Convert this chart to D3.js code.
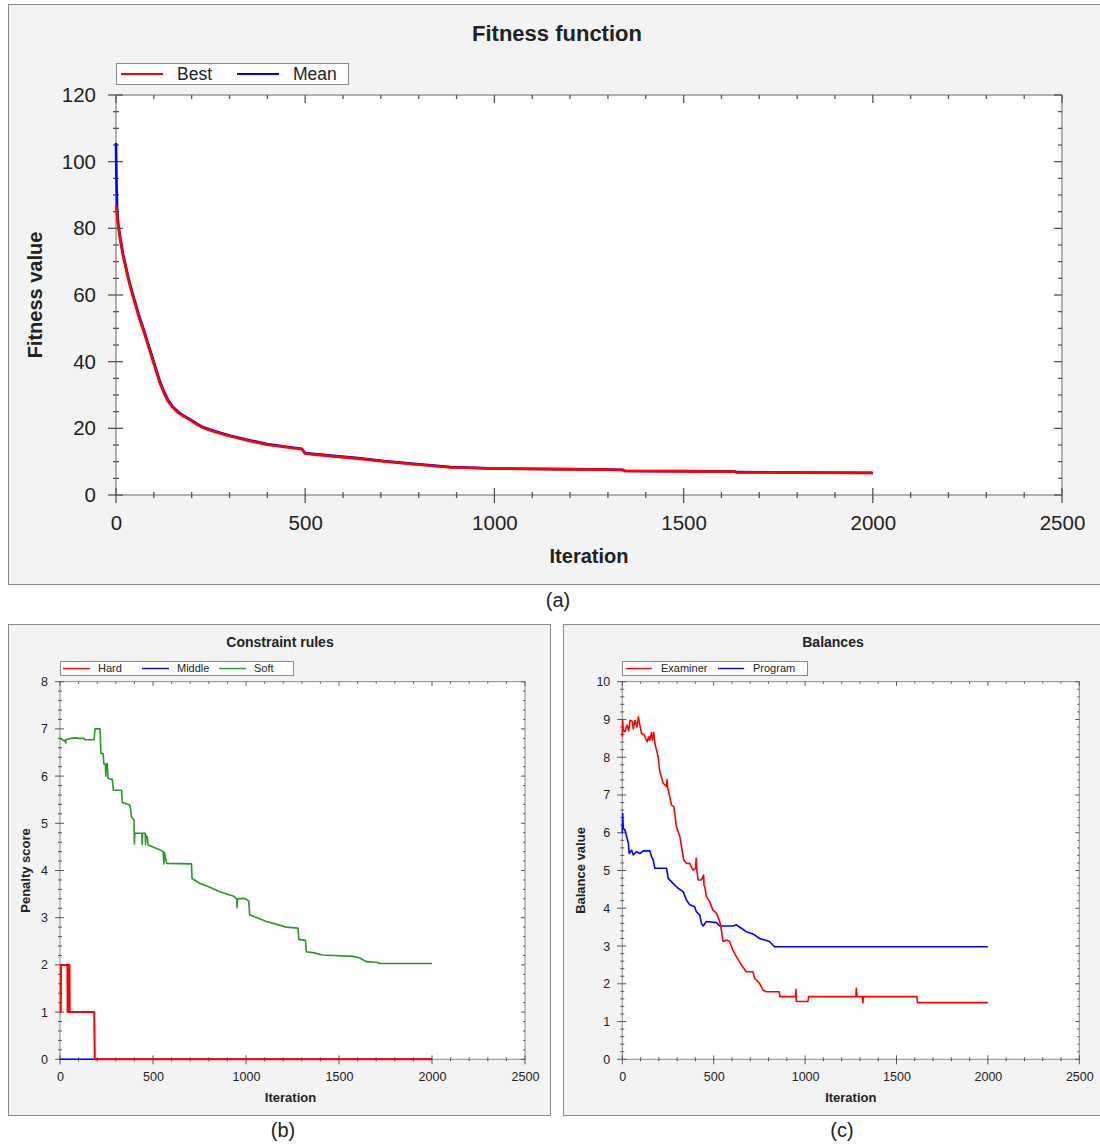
<!DOCTYPE html>
<html>
<head>
<meta charset="utf-8">
<script src="https://cdn.jsdelivr.net/npm/d3@7"></script>
<style>
    body { margin: 0; background: #fff; }
    text { font-family: "Liberation Sans", Arial, sans-serif; fill: #222; }
</style>
</head>
<body>
<svg id="chart" width="1100" height="1145"></svg>
<script>
// ---- data: [iteration, value] ----
const fitnessBest = [[0,87],[3,84],[6,80.5],[12,76],[19,71.5],[26,68],[33,64.5],[41,61],[50,57.5],[60,53.5],
    [72,49.5],[83,45.5],[94,41.5],[105,37.5],[116,33.5],[127,30.5],[138,28],[150,26.2],[165,24.6],[180,23.5],
    [196,22.5],[213,21.2],[231,20.1],[260,19],[302,17.6],[350,16.3],[399,15.1],[450,14.3],[491,13.7],[495,13.1],
    [500,12.4],[575,11.6],[640,10.9],[707,10.1],[780,9.3],[840,8.7],[884,8.3],[950,8.1],[1000,7.9],[1100,7.8],
    [1200,7.7],[1300,7.6],[1340,7.5],[1345,7.2],[1500,7.1],[1635,7.0],[1640,6.8],[1800,6.7],[2000,6.6]];
const fitnessMean = [[0,105.6],[1,96],[3,86],[6,81.2],[12,76.6],[19,72.1],[26,68.6],[33,65.1],[41,61.6],[50,58.1],[60,54.1],
    [72,50.1],[83,46.1],[94,42.1],[105,38.1],[116,34.1],[127,31],[138,28.4],[150,26.5],[165,24.9],[180,23.7],
    [196,22.7],[213,21.4],[231,20.3],[260,19.2],[302,17.8],[350,16.5],[399,15.3],[450,14.5],[491,13.9],[495,13.3],
    [500,12.55],[575,11.75],[640,11.05],[707,10.2],[780,9.4],[840,8.8],[884,8.4],[950,8.15],[1000,7.95],[1100,7.85],
    [1200,7.75],[1300,7.65],[1340,7.55],[1345,7.25],[1500,7.15],[1635,7.05],[1640,6.85],[1800,6.75],[2000,6.65]];

const hard = [[0,1],[4,1],[5,2],[40,2],[41,1],[44,1],[45,2],[47,2],[48,1],[50,1],[51,2],[52,1],
    [184,1],[187,0],[2000,0]];
const middle = [[0,0],[2000,0]];
const soft = [[0,6.80],[10,6.78],[20,6.75],[27,6.76],[30,6.70],[33,6.77],[50,6.79],[60,6.80],[80,6.81],
    [100,6.80],[130,6.80],[134,6.77],[183,6.77],[188,7.0],[215,7.0],[220,6.48],[232,6.48],[236,6.25],[244,6.25],
    [246,6.0],[248,6.25],[254,6.27],[258,5.95],[281,5.93],[287,5.70],[331,5.70],[335,5.44],[375,5.39],[380,5.30],
    [384,5.14],[398,5.07],[400,4.56],[402,4.79],[440,4.79],[442,4.55],[444,4.79],[458,4.79],[460,4.55],[462,4.75],
    [470,4.70],[474,4.54],[530,4.45],[555,4.40],[558,4.14],[562,4.38],[573,4.15],[707,4.14],[710,3.83],[751,3.73],
    [796,3.66],[860,3.55],[930,3.46],[950,3.40],[952,3.21],[954,3.40],[993,3.41],[1015,3.35],[1020,3.06],
    [1110,2.92],[1217,2.80],[1280,2.78],[1284,2.54],[1320,2.52],[1324,2.28],[1360,2.26],[1413,2.21],[1574,2.18],
    [1610,2.15],[1646,2.07],[1709,2.05],[1717,2.03],[2000,2.03]];

const examiner = [[0,8.54],[2,8.98],[5,8.72],[15,8.68],[25,8.85],[35,8.70],[42,8.98],[55,8.95],[60,8.75],
    [70,8.98],[80,8.80],[88,9.07],[96,8.85],[105,8.63],[120,8.59],[136,8.41],[145,8.54],[150,8.45],[160,8.65],
    [165,8.45],[172,8.65],[178,8.37],[196,8.01],[205,7.62],[224,7.31],[242,7.22],[245,7.41],[248,7.20],[260,6.95],
    [269,6.73],[282,6.69],[296,6.16],[315,5.90],[325,5.60],[336,5.28],[351,5.19],[369,5.19],[387,5.01],[400,5.05],
    [404,5.32],[408,5.00],[415,4.75],[433,4.75],[445,4.88],[447,4.60],[451,4.57],[460,4.31],[478,4.17],[496,3.95],
    [515,3.87],[533,3.65],[542,3.42],[551,3.12],[569,3.16],[587,3.12],[605,2.89],[624,2.72],[651,2.50],[678,2.32],
    [715,2.32],[724,2.14],[751,2.01],[769,1.84],[787,1.79],[858,1.79],[862,1.66],[947,1.66],[950,1.85],[952,1.53],
    [1015,1.53],[1020,1.66],[1278,1.66],[1280,1.88],[1284,1.66],[1313,1.66],[1316,1.50],[1320,1.66],[1611,1.66],
    [1615,1.50],[2000,1.50]];
const program = [[0,5.98],[2,6.51],[5,6.12],[15,6.07],[33,5.72],[38,5.45],[51,5.54],[60,5.41],[78,5.50],
    [96,5.45],[115,5.52],[151,5.52],[160,5.37],[169,5.28],[178,5.06],[242,5.06],[251,4.79],[278,4.66],[305,4.53],
    [333,4.44],[351,4.22],[369,4.09],[396,4.04],[405,3.91],[424,3.82],[433,3.60],[442,3.53],[460,3.65],[515,3.62],
    [533,3.53],[605,3.53],[624,3.56],[651,3.47],[678,3.38],[715,3.32],[751,3.20],[805,3.12],[833,2.98],[2000,2.98]];

const xTicks = [0, 500, 1000, 1500, 2000, 2500];
const fitnessTicks = [0, 20, 40, 60, 80, 100, 120];
const penaltyTicks = [0, 1, 2, 3, 4, 5, 6, 7, 8];
const balanceTicks = [0, 1, 2, 3, 4, 5, 6, 7, 8, 9, 10];

const svg = d3.select("#chart");

function drawPanel(o) {
    let g = svg.append("g");

    g.append("rect")
        .attr("x", o.box[0] + 0.5).attr("y", o.box[1] + 0.5)
        .attr("width", o.box[2] - o.box[0]).attr("height", o.box[3] - o.box[1])
        .attr("fill", "#f3f3f3").attr("stroke", "#8a8a8a");

    let x = d3.scaleLinear().domain([0, 2500]).range([o.plot[0], o.plot[2]]);
    let y = d3.scaleLinear().domain([0, o.ymax]).range([o.plot[3], o.plot[1]]);

    g.append("rect")
        .attr("x", x(0)).attr("y", y(o.ymax))
        .attr("width", x(2500) - x(0)).attr("height", y(0) - y(o.ymax))
        .attr("fill", "#fff");

    // frame
    g.append("rect")
        .attr("x", x(0)).attr("y", y(o.ymax))
        .attr("width", x(2500) - x(0)).attr("height", y(0) - y(o.ymax))
        .attr("fill", "none").attr("stroke", "#8a8a8a").attr("stroke-width", o.axisW);

    let t = o.tick; // [major out, major in, minor out, minor in, inner major, inner minor]
    let ticks = g.append("g").attr("stroke", "#555").attr("stroke-width", o.axisW);

    d3.range(0, 2501, 100).forEach(v => {
        let major = v % 500 === 0;
        let X = x(v);
        ticks.append("line")
            .attr("x1", X).attr("x2", X)
            .attr("y1", y(0) - (major ? t[1] : t[3])).attr("y2", y(0) + (major ? t[0] : t[2]));
        ticks.append("line")
            .attr("x1", X).attr("x2", X)
            .attr("y1", y(o.ymax)).attr("y2", y(o.ymax) + (major ? t[4] : t[5]));
    });
    d3.range(0, Math.round(o.ymax / o.minor) + 1).forEach(i => {
        let v = i * o.minor;
        let major = Math.abs(v / o.major - Math.round(v / o.major)) < 1e-6;
        let Y = y(v);
        ticks.append("line")
            .attr("y1", Y).attr("y2", Y)
            .attr("x1", x(0) - (major ? t[0] : t[2])).attr("x2", x(0) + (major ? t[1] : t[3]));
        ticks.append("line")
            .attr("y1", Y).attr("y2", Y)
            .attr("x1", x(2500)).attr("x2", x(2500) - (major ? t[4] : t[5]));
    });

    // tick labels
    let ax = g.append("g")
        .attr("transform", `translate(0,${y(0)})`)
        .call(d3.axisBottom(x).tickValues(xTicks).tickSize(0).tickPadding(o.padX).tickFormat(d3.format("d")));
    let ay = g.append("g")
        .attr("transform", `translate(${x(0)},0)`)
        .call(d3.axisLeft(y).tickValues(o.yTicks).tickSize(0).tickPadding(o.padY).tickFormat(d3.format("d")));
    [ax, ay].forEach(a => {
        a.select(".domain").remove();
        a.selectAll("text")
            .style("font-family", '"Liberation Sans", Arial, sans-serif')
            .style("font-size", o.tickFont + "px")
            .attr("fill", "#222");
    });

    // series
    let line = d3.line().x(d => x(d[0])).y(d => y(d[1]));
    let plotArea = g.append("g");
    o.series.forEach(s => {
        plotArea.append("path")
            .datum(s.data)
            .attr("d", line)
            .attr("fill", "none")
            .attr("stroke", s.color)
            .attr("stroke-width", s.width || o.lineW)
            .attr("stroke-linejoin", "round");
    });

    // titles
    g.append("text")
        .attr("x", o.titlePos[0]).attr("y", o.titlePos[1])
        .attr("text-anchor", "middle")
        .style("font-weight", "bold").style("font-size", o.titleFont + "px")
        .text(o.title);
    g.append("text")
        .attr("x", (x(0) + x(2500)) / 2 + o.xLabelPos[0]).attr("y", o.xLabelPos[1])
        .attr("text-anchor", "middle")
        .style("font-weight", "bold").style("font-size", o.labelFont + "px")
        .text("Iteration");
    g.append("text")
        .attr("transform", `translate(${o.yLabelPos[0]},${(y(0) + y(o.ymax)) / 2}) rotate(-90)`)
        .attr("text-anchor", "middle")
        .attr("dy", "0.35em")
        .style("font-weight", "bold").style("font-size", o.labelFont + "px")
        .text(o.yLabel);

    // legend
    let L = o.legend;
    let lg = g.append("g");
    lg.append("rect")
        .attr("x", L.box[0] + 0.5).attr("y", L.box[1] + 0.5)
        .attr("width", L.box[2] - L.box[0]).attr("height", L.box[3] - L.box[1])
        .attr("fill", "#fff").attr("stroke", "#8a8a8a");
    let cy = (L.box[1] + L.box[3]) / 2 + 0.5;
    L.items.forEach((it, i) => {
        let s = o.series.find(d => d.name === it);
        let x0 = L.xs[i];
        lg.append("line")
            .attr("x1", x0).attr("x2", x0 + L.lineLen)
            .attr("y1", cy).attr("y2", cy)
            .attr("stroke", s.color).attr("stroke-width", L.lineW);
        lg.append("text")
            .attr("x", x0 + L.lineLen + L.gap).attr("y", cy)
            .attr("dy", "0.35em")
            .style("font-size", L.font + "px")
            .text(it);
    });

    svg.append("text")
        .attr("x", o.caption[0]).attr("y", o.caption[1])
        .attr("text-anchor", "middle")
        .attr("dy", "0.35em")
        .style("font-size", o.captionFont + "px")
        .text(o.captionText);
}

drawPanel({
    box: [8, 4, 1102, 584],
    plot: [116, 95, 1062, 495],
    ymax: 120, major: 20, minor: 5, yTicks: fitnessTicks,
    tick: [8, 7, 3, 3, 8, 4],
    axisW: 1.3, lineW: 2.6,
    padX: 20, padY: 20, tickFont: 20.5,
    title: "Fitness function", titlePos: [557, 41], titleFont: 22,
    xLabelPos: [0, 563], labelFont: 20,
    yLabel: "Fitness value", yLabelPos: [35],
    series: [
        {name: "Mean", color: "#0000ff", data: fitnessMean},
        {name: "Best", color: "#ff0000", data: fitnessBest}
    ],
    legend: {box: [116, 63, 348, 84], items: ["Best", "Mean"], xs: [121, 237], lineLen: 42, gap: 14, lineW: 2.2, font: 17.5},
    caption: [558, 600], captionFont: 20, captionText: "(a)"
});

drawPanel({
    box: [8, 624, 550, 1115],
    plot: [60, 681.7, 525, 1059.3],
    ymax: 8, major: 1, minor: 0.2, yTicks: penaltyTicks,
    tick: [5, 4, 2, 2, 4, 2],
    axisW: 1, lineW: 1.6,
    padX: 13, padY: 12, tickFont: 12.5,
    title: "Constraint rules", titlePos: [280, 647], titleFont: 14,
    xLabelPos: [-2, 1102], labelFont: 13,
    yLabel: "Penalty score", yLabelPos: [25],
    series: [
        {name: "Middle", color: "#0000ff", data: middle},
        {name: "Hard", color: "#ff0000", data: hard, width: 2},
        {name: "Soft", color: "#289628", data: soft}
    ],
    legend: {box: [60, 661, 293, 675], items: ["Hard", "Middle", "Soft"], xs: [63, 142, 219], lineLen: 27, gap: 8, lineW: 1.4, font: 11},
    caption: [283, 1130], captionFont: 20, captionText: "(b)"
});

drawPanel({
    box: [563, 624, 1102, 1115],
    plot: [622.3, 681.7, 1079.3, 1059.3],
    ymax: 10, major: 1, minor: 0.2, yTicks: balanceTicks,
    tick: [5, 4, 2, 2, 4, 2],
    axisW: 1, lineW: 1.6,
    padX: 13, padY: 12, tickFont: 12.5,
    title: "Balances", titlePos: [833, 647], titleFont: 14,
    xLabelPos: [0, 1102], labelFont: 13,
    yLabel: "Balance value", yLabelPos: [580],
    series: [
        {name: "Program", color: "#0000ff", data: program},
        {name: "Examiner", color: "#ff0000", data: examiner}
    ],
    legend: {box: [622, 661, 807, 675], items: ["Examiner", "Program"], xs: [626, 718], lineLen: 26, gap: 9, lineW: 1.4, font: 11},
    caption: [842, 1130], captionFont: 20, captionText: "(c)"
});
</script>
</body>
</html>
